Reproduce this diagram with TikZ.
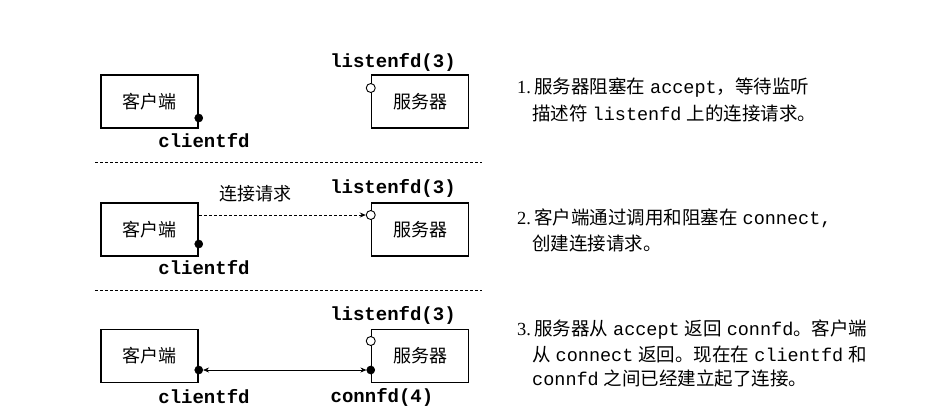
\documentclass[tikz,border=0pt]{standalone}
\usepackage{fontspec}
\setmainfont{Liberation Serif}
\newfontfamily\cjk{Noto Sans CJK SC}
\newfontfamily\monof{Liberation Mono}
\usetikzlibrary{arrows.meta}
\newcommand\zh[1]{{\cjk #1}}
\newcommand\cw[1]{{\monof #1}}
\newcommand\gp{\hspace{5pt}}
\begin{document}
\begin{tikzpicture}[x=1pt,y=-1pt,
  box/.style={draw,line width=1.5pt,minimum width=97pt,minimum height=53pt,inner sep=0pt,font=\cjk\fontsize{18}{20}\selectfont},
  fdlabel/.style={inner sep=0pt,font=\monof\bfseries\fontsize{19}{21}\selectfont},
  sockon/.style={circle,fill=black,draw=black,line width=0.6pt,minimum size=8pt,inner sep=0pt},
  sockoff/.style={circle,fill=white,draw=black,line width=0.9pt,minimum size=9pt,inner sep=0pt},
  sepline/.style={line width=0.8pt,dash pattern=on 3pt off 2pt},
  desc/.style={inner sep=0pt,anchor=west,font=\fontsize{18.5}{22}\selectfont},
  reqtext/.style={inner sep=0pt,font=\cjk\fontsize{18}{20}\selectfont}]
\useasboundingbox[fill=white] (0,0) rectangle (944,416);

% ---------- row 1 ----------
\node[box] (c1) at (149.5,101.5) {客户端};
\node[box] (s1) at (420,101.5) {服务器};
\node[sockon] (c1d) at (c1.east |- 0,118) {};
\node[sockoff] (s1o) at (s1.west |- 0,88) {};
\node[fdlabel] (l1) at (393,62) {listenfd(3)};
\node[fdlabel] (cf1) at (204,141) {clientfd};
\coordinate (sa) at (95,162);
\coordinate (sb) at (482,162);
\draw[sepline] (sa) -- (sb);

% ---------- row 2 ----------
\node[box] (c2) at (149.5,229.5) {客户端};
\node[box] (s2) at (420,229.5) {服务器};
\node[sockon] (c2d) at (c2.east |- 0,244) {};
\node[sockoff] (s2o) at (s2.west |- 0,215) {};
\node[fdlabel] (l2) at (393,188) {listenfd(3)};
\node[fdlabel] (cf2) at (204,268) {clientfd};
\node[reqtext] (req) at (255,194) {连接请求};
\coordinate (c2e) at (c2.east |- s2o);
\draw[line width=0.9pt,dash pattern=on 3pt off 2pt,-{Stealth[length=6pt,width=5pt]}] (c2e) -- (s2o);
\coordinate (sc) at (95,290);
\coordinate (sd) at (482,290);
\draw[sepline] (sc) -- (sd);

% ---------- row 3 ----------
\node[box] (c3) at (149.5,356) {客户端};
\node[box] (s3) at (420,356) {服务器};
\node[sockon] (c3d) at (c3.east |- 0,370) {};
\node[sockon] (s3d) at (s3.west |- 0,370) {};
\node[sockoff] (s3o) at (s3.west |- 0,341) {};
\node[fdlabel] (l3) at (393,315) {listenfd(3)};
\node[fdlabel] (cf3) at (204,397) {clientfd};
\node[fdlabel] (cn3) at (382,397) {connfd(4)};
\draw[line width=0.8pt,{Stealth[length=6pt,width=5pt]}-{Stealth[length=6pt,width=5pt]}] (c3d) -- (s3d);

% ---------- descriptions ----------
\node[desc] (t1a) at (517,88) {1.\,\zh{服务器阻塞在}\gp\cw{accept}\zh{，等待监听}};
\node[desc] (t1b) at (532,113) {\zh{描述符}\gp\cw{listenfd}\gp\zh{上的连接请求。}};
\node[desc] (t2a) at (517,218) {2.\,\zh{客户端通过调用和阻塞在}\gp\cw{connect,}};
\node[desc] (t2b) at (532,243) {\zh{创建连接请求。}};
\node[desc] (t3a) at (517,330) {3.\,\zh{服务器从}\gp\cw{accept}\gp\zh{返回}\gp\cw{connfd}\zh{。客户端}};
\node[desc] (t3b) at (532,354) {\zh{从}\gp\cw{connect}\gp\zh{返回。现在在}\gp\cw{clientfd}\gp\zh{和}};
\node[desc] (t3c) at (532,378) {\cw{connfd}\gp\zh{之间已经建立起了连接。}};
\end{tikzpicture}
\end{document}
